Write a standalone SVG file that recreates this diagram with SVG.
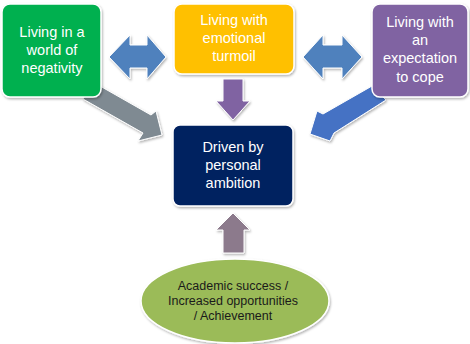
<svg xmlns="http://www.w3.org/2000/svg" width="470" height="344" viewBox="0 0 470 344">
<defs>
<filter id="sh" x="-10%" y="-10%" width="130%" height="130%"><feDropShadow dx="1" dy="1.5" stdDeviation="1.2" flood-color="#000" flood-opacity="0.3"/></filter>
</defs>
<style>
.box{stroke:#fff;stroke-width:1.5;filter:url(#sh)}
.t{font-family:"Liberation Sans",Arial,sans-serif;font-size:14.5px;fill:#fff;text-anchor:middle}
.te{font-family:"Liberation Sans",Arial,sans-serif;font-size:12.5px;fill:#1a1a1a;text-anchor:middle}
.arr{stroke:#fff;stroke-width:1;filter:url(#sh)}
</style>
<rect width="470" height="344" fill="#fff"/>
<g id="connectors">
<path class="arr" fill="#4F81BD" d="M109,57 L130,35 L130,45 L147,45 L147,35 L166,57 L147,79 L147,68 L130,68 L130,79 Z"/>
<path class="arr" fill="#4F81BD" d="M303,57 L323,35 L323,45 L342,45 L342,35 L362,57 L342,79 L342,68 L323,68 L323,79 Z"/>
<path class="arr" fill="#8064A2" d="M223,79 L243,79 L243,101 L250,101 L233,120 L216,101 L223,101 Z"/>
<path class="arr" fill="#7F8A92" d="M93,82 L151,115 L156,111 L162,135 L138,141 L143,133 L83,99 Z"/>
<path class="arr" fill="#4472C4" d="M372,86 L323,114 L317,111 L310,134 L330,141 L334,133 L386,100 Z"/>
<path class="arr" fill="#8C7A8C" d="M223,253 L244,253 L244,230 L250,230 L233,213 L216,230 L223,230 Z"/>
</g>
<g id="n1">
<rect class="box" x="2" y="4" width="99" height="93" rx="8" fill="#00B050"/>
<text class="t" x="52" y="37">Living in a</text>
<text class="t" x="52" y="55">world of</text>
<text class="t" x="52" y="73">negativity</text>
</g>
<g id="n2">
<rect class="box" x="174" y="4" width="120" height="70" rx="8" fill="#FFC000"/>
<text class="t" x="234" y="25">Living with</text>
<text class="t" x="234" y="43">emotional</text>
<text class="t" x="234" y="61">turmoil</text>
</g>
<g id="n3">
<rect class="box" x="372" y="4" width="96" height="93" rx="8" fill="#8064A2"/>
<text class="t" x="420" y="27">Living with</text>
<text class="t" x="420" y="45">an</text>
<text class="t" x="420" y="63">expectation</text>
<text class="t" x="420" y="82">to cope</text>
</g>
<g id="n4">
<rect class="box" x="173" y="125" width="120" height="81" rx="7" fill="#002060"/>
<text class="t" x="233" y="152">Driven by</text>
<text class="t" x="233" y="170">personal</text>
<text class="t" x="233" y="188">ambition</text>
</g>
<g id="n5">
<ellipse class="box" cx="235" cy="301" rx="94" ry="42" fill="#9BBB59"/>
<text class="te" x="233" y="290">Academic success /</text>
<text class="te" x="233" y="305">Increased opportunities</text>
<text class="te" x="233" y="320">/ Achievement</text>
</g>
</svg>
